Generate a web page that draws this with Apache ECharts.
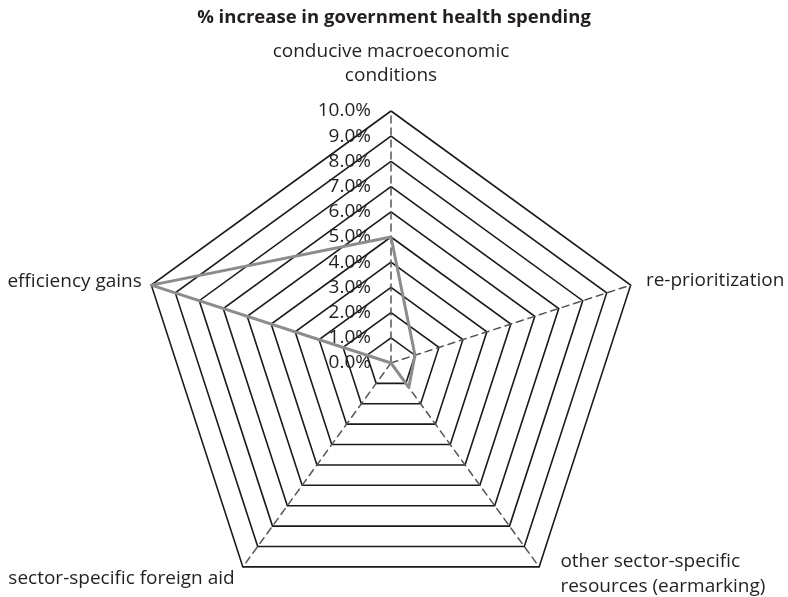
<!DOCTYPE html>
<html>
<head>
<meta charset="utf-8">
<script src="https://cdn.jsdelivr.net/npm/echarts@6/dist/echarts.min.js"></script>
<style>
html,body{margin:0;padding:0;background:#fff;}
#chart{width:788px;height:597px;}
</style>
</head>
<body>
<div id="chart"></div>
<script>
const chartTitle = '% increase in government health spending';
const indicatorNames = [
  'conducive macroeconomic\nconditions',
  'efficiency gains',
  'sector-specific foreign aid',
  'other sector-specific\nresources (earmarking)',
  're-prioritization'
];
const seriesValues = [5.0, 10.0, 0.0, 1.2, 1.0];
const tickLabels = ['0.0%','1.0%','2.0%','3.0%','4.0%','5.0%','6.0%','7.0%','8.0%','9.0%','10.0%'];
const axisMax = 10;

const FONT = '"Open Sans", sans-serif';
const nameStyles = [
  {align: 'center', verticalAlign: 'bottom', lineHeight: 24, nameGap: 23},
  {align: 'right', verticalAlign: 'middle', nameGap: 10, padding: [12, 0, 0, 0]},
  {align: 'right', verticalAlign: 'middle', nameGap: 14, padding: [7, 0, 0, 0]},
  {align: 'left', verticalAlign: 'middle', lineHeight: 25, nameGap: 9, padding: [0, 0, 0, 16]},
  {align: 'left', verticalAlign: 'middle', nameGap: 16, padding: [16, 0, 0, 0]}
];

const indicator = indicatorNames.map(function (n, i) {
  const s = nameStyles[i];
  const ind = {
    name: n,
    max: axisMax,
    min: 0,
    nameGap: s.nameGap,
    nameTextStyle: {
      color: '#231f20', fontSize: 19, fontFamily: FONT,
      align: s.align, verticalAlign: s.verticalAlign,
      lineHeight: s.lineHeight || 22,
      padding: s.padding || 0
    }
  };
  if (i === 0) {
    ind.axisLabel = {
      show: true,
      color: '#231f20',
      fontSize: 19,
      fontFamily: FONT,
      margin: 20,
      align: 'right',
      verticalAlign: 'middle',
      padding: [5, 0, 0, 0],
      formatter: function (v) { return tickLabels[Math.round(v)]; }
    };
  }
  return ind;
});

const chart = echarts.init(document.getElementById('chart'), null, {renderer: 'canvas'});
chart.setOption({
  animation: false,
  backgroundColor: '#ffffff',
  title: {
    text: chartTitle,
    left: 'center',
    top: 3,
    textStyle: {fontSize: 18.5, fontWeight: 'bold', color: '#231f20', fontFamily: FONT}
  },
  radar: {
    center: [391, 363],
    radius: 252,
    startAngle: 90,
    shape: 'polygon',
    splitNumber: 10,
    indicator: indicator,
    axisName: {color: '#231f20', fontSize: 19, fontFamily: FONT},
    axisLine: {show: true, lineStyle: {color: '#555555', width: 1.5, type: [7, 5]}},
    axisTick: {show: false},
    axisLabel: {show: false},
    splitLine: {show: true, lineStyle: {color: '#1a1a1a', width: 1.6}},
    splitArea: {show: false}
  },
  series: [{
    type: 'radar',
    symbol: 'none',
    lineStyle: {color: '#8c8c8c', width: 3},
    areaStyle: null,
    data: [{value: seriesValues, name: chartTitle}]
  }]
});
</script>
</body>
</html>
